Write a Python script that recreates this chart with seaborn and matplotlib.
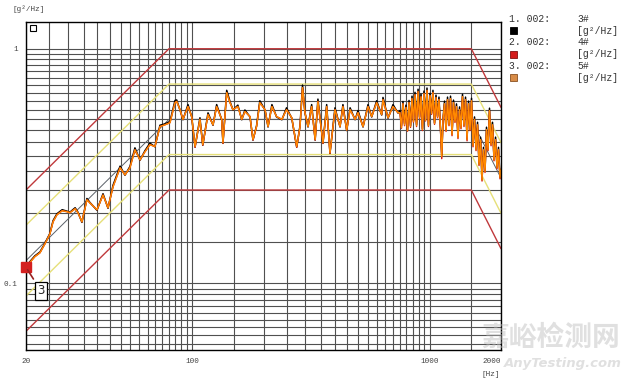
import matplotlib
matplotlib.use("Agg")
import matplotlib.pyplot as plt
from matplotlib.patches import Rectangle
from matplotlib.ticker import NullFormatter
import pandas as pd
import seaborn as sns

# profil de reference et limites (alarme +/-1.5 dB, abort +/-3 dB)
prof_freq = [20, 80, 1500, 2000]
ref_psd = [0.125, 0.5, 0.5, 0.281]
alarm_hi = [0.177, 0.707, 0.707, 0.398]
alarm_lo = [0.0884, 0.354, 0.354, 0.199]
abort_hi = [0.25, 1.0, 1.0, 0.5625]
abort_lo = [0.0625, 0.25, 0.25, 0.1406]

# mesures (Hz, g²/Hz)
freq = [20.0, 20.8, 21.8, 22.9, 24.0, 25.2, 26.0, 27.0, 28.4, 29.8,
        30.6, 32.2, 33.1, 34.4, 36.1, 37.2, 39.8, 42.2, 44.3, 46.5,
        49.8, 52.2, 54.8, 57.5, 60.4, 63.4, 66.5, 69.8, 73.3, 76.9,
        80.8, 84.8, 86.2, 89.0, 91.6, 96.2, 99.7, 103, 108, 111,
        116.8, 122.6, 127, 133.4, 135, 140, 144.5, 148.8, 156, 162,
        167, 175.5, 180.6, 187, 193, 203, 209, 217, 227, 239,
        250, 263, 276, 285, 292, 299, 308, 319, 330, 339,
        356, 369, 381, 400, 420, 432, 448, 463, 486, 500,
        525, 551, 571, 599, 629, 637, 669, 702, 737,
        751, 762, 773, 785, 796, 808, 820, 832, 844, 856,
        869, 882, 895, 908, 921, 934, 948, 962, 976, 990,
        1005, 1020, 1034, 1050, 1065, 1081, 1096, 1112, 1126, 1140,
        1157, 1174, 1191, 1208, 1226, 1244, 1262, 1280, 1299, 1318,
        1338, 1357, 1377, 1397, 1418, 1439, 1460, 1481, 1503, 1525,
        1547, 1570, 1593, 1616, 1640, 1664, 1688, 1713, 1738, 1764,
        1789, 1816, 1842, 1869, 1897, 1924, 1952, 1981, 2000]

psd_5 = [0.118, 0.123, 0.130, 0.135, 0.147, 0.162, 0.183, 0.196, 0.204, 0.202,
         0.200, 0.208, 0.200, 0.183, 0.227, 0.220, 0.206, 0.238, 0.210, 0.258,
         0.311, 0.290, 0.311, 0.371, 0.336, 0.364, 0.390, 0.383, 0.466, 0.474,
         0.484, 0.589, 0.596, 0.550, 0.500, 0.567, 0.514, 0.383, 0.500, 0.390,
         0.524, 0.474, 0.567, 0.500, 0.397, 0.650, 0.589, 0.550, 0.567, 0.500,
         0.540, 0.514, 0.410, 0.466, 0.589, 0.550, 0.466, 0.567, 0.514, 0.500,
         0.550, 0.508, 0.383, 0.466, 0.683, 0.534, 0.466, 0.567, 0.410, 0.596,
         0.397, 0.567, 0.360, 0.550, 0.466, 0.567, 0.450, 0.550, 0.500, 0.534,
         0.466, 0.567, 0.514, 0.589, 0.524, 0.607, 0.508, 0.567, 0.534,
         0.534, 0.461, 0.583, 0.474, 0.562, 0.448, 0.589, 0.466, 0.613, 0.489,
         0.637, 0.470, 0.657, 0.508, 0.624, 0.452, 0.644, 0.495, 0.664, 0.470,
         0.631, 0.529, 0.650, 0.480, 0.619, 0.512, 0.607, 0.461, 0.347, 0.500,
         0.583, 0.448, 0.607, 0.474, 0.613, 0.430, 0.589, 0.489, 0.567, 0.418,
         0.550, 0.461, 0.625, 0.470, 0.607, 0.410, 0.583, 0.452, 0.600, 0.386,
         0.500, 0.371, 0.474, 0.321, 0.410, 0.276, 0.371, 0.300, 0.452, 0.371,
         0.545, 0.390, 0.474, 0.336, 0.410, 0.311, 0.371, 0.282, 0.305]

psd_3 = [0.118, 0.124, 0.131, 0.136, 0.148, 0.163, 0.185, 0.198, 0.206, 0.203,
         0.201, 0.210, 0.201, 0.182, 0.230, 0.221, 0.205, 0.241, 0.209, 0.262,
         0.316, 0.289, 0.315, 0.378, 0.335, 0.368, 0.396, 0.382, 0.472, 0.478,
         0.490, 0.602, 0.605, 0.548, 0.498, 0.578, 0.512, 0.381, 0.508, 0.388,
         0.533, 0.472, 0.578, 0.498, 0.395, 0.665, 0.596, 0.548, 0.575, 0.498,
         0.548, 0.512, 0.408, 0.470, 0.600, 0.548, 0.464, 0.578, 0.512, 0.498,
         0.560, 0.506, 0.381, 0.470, 0.700, 0.532, 0.464, 0.578, 0.408, 0.610,
         0.395, 0.578, 0.358, 0.560, 0.464, 0.578, 0.448, 0.560, 0.498, 0.545,
         0.464, 0.578, 0.512, 0.600, 0.522, 0.620, 0.506, 0.578, 0.532,
         0.545, 0.470, 0.596, 0.480, 0.575, 0.452, 0.602, 0.470, 0.628, 0.492,
         0.652, 0.475, 0.672, 0.512, 0.640, 0.455, 0.660, 0.498, 0.680, 0.472,
         0.645, 0.532, 0.665, 0.482, 0.634, 0.515, 0.622, 0.463, 0.352, 0.503,
         0.598, 0.450, 0.622, 0.476, 0.628, 0.432, 0.604, 0.491, 0.582, 0.420,
         0.565, 0.463, 0.640, 0.472, 0.622, 0.412, 0.598, 0.454, 0.615, 0.388,
         0.512, 0.373, 0.486, 0.322, 0.420, 0.277, 0.380, 0.301, 0.463, 0.372,
         0.558, 0.392, 0.486, 0.337, 0.420, 0.312, 0.380, 0.283, 0.306]

psd_4 = [0.118, 0.123, 0.130, 0.135, 0.147, 0.162, 0.183, 0.196, 0.204, 0.202,
         0.200, 0.208, 0.200, 0.183, 0.227, 0.220, 0.206, 0.238, 0.210, 0.258,
         0.311, 0.290, 0.311, 0.371, 0.336, 0.364, 0.390, 0.383, 0.466, 0.474,
         0.484, 0.589, 0.596, 0.550, 0.500, 0.567, 0.514, 0.380, 0.500, 0.388,
         0.524, 0.474, 0.567, 0.500, 0.395, 0.650, 0.589, 0.550, 0.567, 0.500,
         0.540, 0.514, 0.408, 0.466, 0.589, 0.550, 0.466, 0.567, 0.514, 0.500,
         0.550, 0.508, 0.380, 0.466, 0.683, 0.534, 0.466, 0.567, 0.408, 0.596,
         0.395, 0.567, 0.358, 0.550, 0.466, 0.567, 0.450, 0.550, 0.500, 0.534,
         0.466, 0.567, 0.514, 0.589, 0.524, 0.607, 0.508, 0.567, 0.534,
         0.534, 0.458, 0.583, 0.470, 0.562, 0.445, 0.589, 0.462, 0.613, 0.486,
         0.637, 0.466, 0.657, 0.505, 0.624, 0.448, 0.644, 0.492, 0.664, 0.466,
         0.631, 0.525, 0.650, 0.476, 0.619, 0.508, 0.607, 0.456, 0.340, 0.496,
         0.583, 0.444, 0.607, 0.470, 0.613, 0.426, 0.589, 0.485, 0.567, 0.414,
         0.550, 0.456, 0.625, 0.466, 0.607, 0.405, 0.583, 0.448, 0.600, 0.382,
         0.500, 0.368, 0.474, 0.318, 0.410, 0.273, 0.371, 0.297, 0.452, 0.368,
         0.545, 0.386, 0.474, 0.333, 0.410, 0.308, 0.371, 0.279, 0.302]

x_grid = [25, 30, 35, 40, 45, 50, 55, 60, 65, 70, 75, 80, 85, 90, 95,
          150, 200, 250, 300, 350, 400, 450, 500, 550, 600, 650, 700,
          750, 800, 850, 900, 950, 1500]
y_grid = [0.055, 0.06, 0.065, 0.07, 0.075, 0.08, 0.085, 0.09, 0.095,
          0.15, 0.2, 0.25, 0.3, 0.35, 0.4, 0.45, 0.5, 0.55, 0.6, 0.65,
          0.7, 0.75, 0.8, 0.85, 0.9, 0.95]

sns.set_style("white")
plt.rcParams['font.family'] = ['Liberation Mono', 'DejaVu Sans']

fig = plt.figure(figsize=(6.32, 3.83), dpi=100)
ax = fig.add_axes([26 / 632, 1 - 350 / 383, 475 / 632, 328 / 383])
ax.set_xscale('log')
ax.set_yscale('log')

# limites et reference
for vals, col, lw in [(abort_hi, '#c0393c', 1.0), (abort_lo, '#c0393c', 1.0),
                      (alarm_hi, '#e6e079', 1.0), (alarm_lo, '#e6e079', 1.0),
                      (ref_psd, '#5a6068', 0.7)]:
    sns.lineplot(x=prof_freq, y=vals, color=col, linewidth=lw, ax=ax)

# courbes mesurees
df = pd.DataFrame({'freq': freq, '3#': psd_3, '4#': psd_4, '5#': psd_5})
sns.lineplot(data=df, x='freq', y='3#', color='black', linewidth=1.1,
             ax=ax, estimator=None, sort=False)
sns.lineplot(data=df, x='freq', y='4#', color='#d01010', linewidth=1.0,
             ax=ax, estimator=None, sort=False)
sns.lineplot(data=df, x='freq', y='5#', color='#ff8a00', linewidth=1.0,
             ax=ax, estimator=None, sort=False)

ax.set_xlim(20, 2000)
ax.set_ylim(0.052, 1.3)
ax.set_xticks([20, 100, 1000, 2000])
ax.set_xticklabels(['20', '100', '1000', '2000'])
ax.set_xticks(x_grid, minor=True)
ax.set_yticks([0.1, 1])
ax.set_yticklabels(['0.1', '1'])
ax.set_yticks(y_grid, minor=True)
ax.xaxis.set_minor_formatter(NullFormatter())
ax.yaxis.set_minor_formatter(NullFormatter())
ax.grid(which='both', color='#505050', linewidth=0.8)
ax.set_axisbelow(True)
ax.tick_params(which='both', direction='out', length=2, width=0.6,
               color='#404040', labelsize=5.5, labelcolor='#444444')
ax.tick_params(axis='x', pad=4)
ax.tick_params(axis='y', pad=4)
ax.get_xticklabels()[-1].set_horizontalalignment('right')
ax.set_xlabel('')
ax.set_ylabel('')
for s in ax.spines.values():
    s.set_color('black')
    s.set_linewidth(1.0)

# petit carre en haut a gauche
ax.plot([0.014], [0.983], marker='s', ms=4, mfc='white', mec='black',
        mew=0.8, transform=ax.transAxes)

# curseur 3
ax.plot([20], [0.117], marker='s', ms=7, color='#d42020', clip_on=False, zorder=6)
ax.annotate('3', xy=(20, 0.117), xytext=(23.1, 0.0931), fontsize=8.5,
            family='DejaVu Sans', ha='center', va='center', zorder=7,
            bbox=dict(boxstyle='square,pad=0.2', fc='white', ec='black', lw=0.9),
            arrowprops=dict(arrowstyle='-', color='#9a2020', lw=1.2))

# titres d'axes
fig.text(13 / 632, 1 - 9 / 383, '[g²/Hz]', fontsize=5.5, color='#444444',
         ha='left', va='center')
fig.text(491 / 632, 1 - 374 / 383, '[Hz]', fontsize=5.5, color='#444444',
         ha='center', va='center')

# legende
rows = [('1. 002:', '3#', 'black', 'black'),
        ('2. 002:', '4#', '#d41c1c', '#801010'),
        ('3. 002:', '5#', '#d88c48', '#8a5020')]
for i, (lab, name, fc, ec) in enumerate(rows):
    y0 = 18.7 + i * 23.5
    fig.text(509 / 632, 1 - y0 / 383, lab, fontsize=7, color='#333333',
             ha='left', va='center')
    fig.text(577 / 632, 1 - y0 / 383, name, fontsize=7, color='#333333',
             ha='left', va='center')
    fig.text(577 / 632, 1 - (y0 + 12.2) / 383, '[g²/Hz]', fontsize=7,
             color='#333333', ha='left', va='center')
    fig.patches.append(Rectangle((509.5 / 632, 1 - (y0 + 15.5) / 383),
                                 7.2 / 632, 6.8 / 383, fc=fc, ec=ec, lw=0.6,
                                 transform=fig.transFigure, figure=fig))

# filigrane
fig.text(481 / 632, 1 - 338 / 383, '嘉峪检测网', fontsize=20, weight='bold',
         family=['Noto Sans CJK SC'], color='#bbbbbb', alpha=0.45,
         ha='left', va='center')
fig.text(504 / 632, 1 - 363 / 383, 'AnyTesting.com', fontsize=9.5,
         weight='bold', style='italic', family=['DejaVu Sans'],
         color='#bbbbbb', alpha=0.45, ha='left', va='center')

fig.savefig('out.png', dpi=100)
